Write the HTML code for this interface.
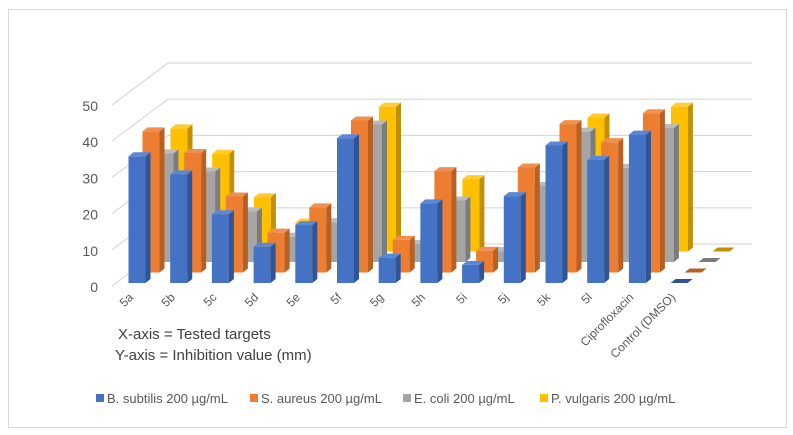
<!DOCTYPE html>
<html><head><meta charset="utf-8"><style>
html,body{margin:0;padding:0;background:#fff;}
svg{display:block;font-family:"Liberation Sans",sans-serif;}
</style></head><body>
<svg id="chart" width="793" height="435" viewBox="0 0 793 435" xmlns="http://www.w3.org/2000/svg">
<rect x="8.5" y="9.5" width="778" height="418" fill="#fff" stroke="#d9d9d9"/>
<g id="grid"></g>
<g id="yticks"></g>
<g id="bars"></g>
<g id="xticks"></g>
<text x="118" y="339" font-size="15" fill="#404040">X-axis = Tested targets</text>
<text x="115" y="360" font-size="15" fill="#404040">Y-axis = Inhibition value (mm)</text>
<g id="legend"></g>
</svg>
<script>
const categories = ["5a","5b","5c","5d","5e","5f","5g","5h","5i","5j","5k","5l","Ciprofloxacin","Control (DMSO)"];
const bSubtilis = [35,30,19,10,16,40,7,22,5,24,38,34,41,0];
const sAureus = [39,33,21,11,18,42,9,28,6,29,41,36,44,0];
const eColi = [30,25,14,7,11,38,5,17,3,21,36,26,37,0];
const pVulgaris = [34,27,15,8,4,40,2,20,4,16,37,22,40,0];
const seriesNames = ["B. subtilis 200 µg/mL","S. aureus 200 µg/mL","E. coli 200 µg/mL","P. vulgaris 200 µg/mL"];
const yTicks = [0,10,20,30,40,50];

const NS="http://www.w3.org/2000/svg";
const svg=document.getElementById('chart');
function mk(tag,attrs,parent){const e=document.createElementNS(NS,tag);for(const k in attrs)e.setAttribute(k,attrs[k]);parent.appendChild(e);return e;}
const scale=3.62;
const x0=137, step=41.7, baseFront=283, rowDx=14, rowDy=-10.5;
function xCat(i,row){return x0+i*step+row*rowDx;}
function yBase(row){return baseFront+row*rowDy;}
function yVal(v,row){return yBase(row)-v*scale;}

// gridlines
const grid=document.getElementById('grid');
const yt=document.getElementById('yticks');
const wallBase=244;
yTicks.forEach(t=>{
  const yh=wallBase-t*scale;
  const l=mk('polyline',{points:`112,${yh+42} 168,${yh} 752,${yh}`,fill:'none',stroke:'#d9d9d9','stroke-width':1.2},grid);
  
  
  const tx=mk('text',{x:98,y:yh+48,'font-size':14,fill:'#595959','text-anchor':'end'},yt);
  tx.textContent=t;
  
  
});

const colors=[
 {f:'#4472C4',s:'#2F5597',t:'#5A87D8'},
 {f:'#ED7D31',s:'#B85F22',t:'#F09050'},
 {f:'#A5A5A5',s:'#7C7C7C',t:'#BBBBBB'},
 {f:'#FFC000',s:'#C09000',t:'#FFCB2E'}];
const allSeries=[bSubtilis,sAureus,eColi,pVulgaris];
const bars=document.getElementById('bars');
const w=17,dx=5,dy=-4;
for(let row=3;row>=0;row--){
  const vals=allSeries[row];
  for(let i=0;i<categories.length;i++){
    const v=vals[i];
    const xl=xCat(i,row)-w/2, yb=yBase(row), ytp=yVal(v,row);
    const g=mk('g',{},bars);
    
    
    if(v>0){
      mk('rect',{x:xl,y:ytp,width:w,height:yb-ytp,fill:colors[row].f},g);
      mk('polygon',{points:`${xl+w},${ytp} ${xl+w+dx},${ytp+dy} ${xl+w+dx},${yb+dy} ${xl+w},${yb}`,fill:colors[row].s},g);
    }
    mk('polygon',{points:`${xl},${ytp} ${xl+dx},${ytp+dy} ${xl+w+dx},${ytp+dy} ${xl+w},${ytp}`,fill:v>0?colors[row].t:colors[row].s},g);
  }
}

// x labels
const xt=document.getElementById('xticks');
categories.forEach((c,i)=>{
  const x=xCat(i,0)-3, y=298;
  const t=mk('text',{x:x,y:y,'font-size':12,fill:'#595959','text-anchor':'end',transform:`rotate(-45 ${x} ${y})`},xt);
  t.textContent=c;
  
  
});

// legend
const lg=document.getElementById('legend');
const lx=[96,250,403,540];
seriesNames.forEach((n,i)=>{
  const g=mk('g',{},lg);
  
  
  mk('rect',{x:lx[i],y:394,width:8,height:8,fill:colors[i].f},g);
  const t=mk('text',{x:lx[i]+11,y:403,'font-size':13,fill:'#595959'},g);
  t.textContent=n;
});
</script>
</body></html>
